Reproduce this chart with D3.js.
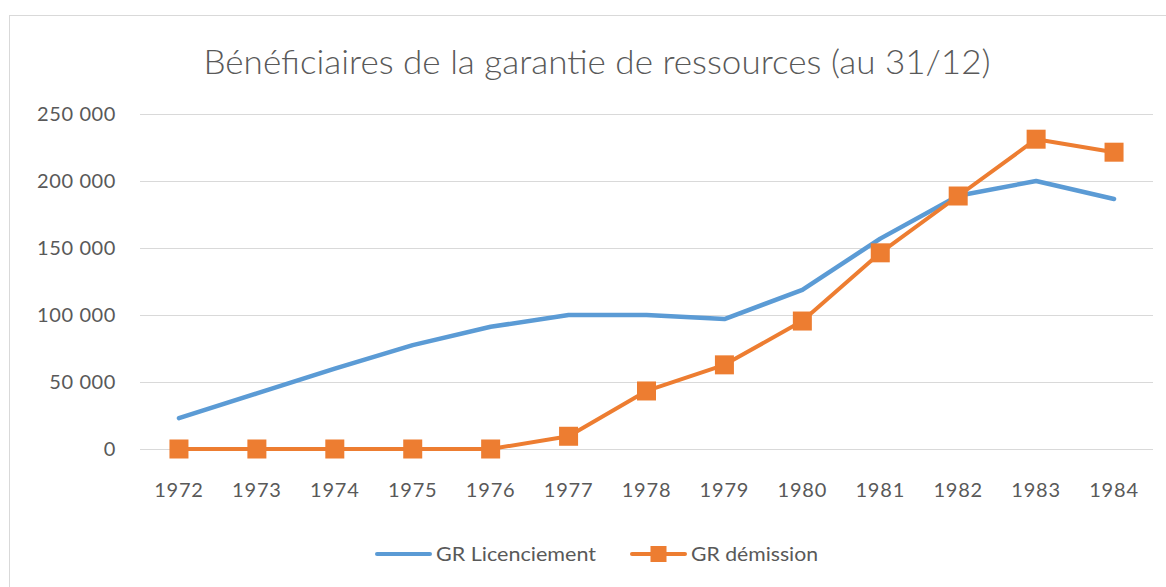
<!DOCTYPE html>
<html>
<head>
<meta charset="utf-8">
<script src="https://d3js.org/d3.v7.min.js"></script>
<style>
  body { margin: 0; background: #fff; }
  text { font-family: Lato, "Open Sans", sans-serif; fill: #595959; }
</style>
</head>
<body>
<svg></svg>
<script>
var width = 1166,
  height = 587;

// data
var years = ["1972", "1973", "1974", "1975", "1976", "1977", "1978", "1979", "1980", "1981", "1982", "1983", "1984"];
var licenciement = [23000, 41500, 60000, 77500, 91200, 100000, 100000, 97000, 118700, 157000, 189000, 200000, 186600];
var demission = [0, 0, 0, 0, 0, 9500, 43300, 62800, 95500, 146400, 188800, 231200, 221500];
var yTicks = [0, 50000, 100000, 150000, 200000, 250000];
var seriesNames = ["GR Licenciement", "GR démission"];
var colors = ["#5B9BD5", "#ED7D31"];

var svg = d3.select("svg")
  .attr("width", width)
  .attr("height", height);

// chart frame
svg.append("rect")
  .attr("x", 9.5).attr("y", 15.5)
  .attr("width", width + 10).attr("height", height + 10)
  .attr("fill", "none")
  .attr("stroke", "#d9d9d9");

var x = d3.scaleBand()
  .domain(years)
  .range([140, 1153]);

var y = d3.scaleLinear()
  .domain([0, 250000])
  .range([449, 114]);

var fmt = function (v) { return d3.format(",")(v).replace(/,/g, " "); };

// grid
svg.append("g")
  .selectAll("line")
  .data(yTicks)
  .enter().append("line")
  .attr("x1", 140).attr("x2", 1153)
  .attr("y1", d => Math.round(y(d)) + 0.5)
  .attr("y2", d => Math.round(y(d)) + 0.5)
  .attr("stroke", "#d9d9d9")
  .attr("stroke-width", 1);

// y labels
svg.append("g")
  .selectAll("text")
  .data(yTicks)
  .enter().append("text")
  .attr("x", 116)
  .attr("y", d => y(d))
  .attr("dy", "0.35em")
  .attr("text-anchor", "end")
  .style("font-size", "20px")
  .style("letter-spacing", "0.6px")
  .text(fmt);

// x labels
svg.append("g")
  .selectAll("text")
  .data(years)
  .enter().append("text")
  .attr("x", d => x(d) + x.bandwidth() / 2)
  .attr("y", 490)
  .attr("dy", "0.35em")
  .attr("text-anchor", "middle")
  .style("font-size", "20px")
  .style("letter-spacing", "0.8px")
  .text(d => d);

// title
svg.append("text")
  .attr("x", 597)
  .attr("y", 62)
  .attr("dy", "0.35em")
  .attr("text-anchor", "middle")
  .attr("textLength", 787)
  .attr("lengthAdjust", "spacingAndGlyphs")
  .style("font-size", "33px")
  .style("font-weight", 300)
  .text("Bénéficiaires de la garantie de ressources (au 31/12)");

var line = d3.line()
  .x((d, i) => x(years[i]) + x.bandwidth() / 2)
  .y(d => y(d));

svg.append("path")
  .datum(licenciement)
  .attr("d", line)
  .attr("fill", "none")
  .attr("stroke", colors[0])
  .attr("stroke-width", 4.5)
  .attr("stroke-linejoin", "round")
  .attr("stroke-linecap", "round");

svg.append("path")
  .datum(demission)
  .attr("d", line)
  .attr("fill", "none")
  .attr("stroke", colors[1])
  .attr("stroke-width", 4)
  .attr("stroke-linejoin", "round")
  .attr("stroke-linecap", "round");

var sq = 19;
svg.append("g")
  .selectAll("rect")
  .data(demission)
  .enter().append("rect")
  .attr("x", (d, i) => x(years[i]) + x.bandwidth() / 2 - sq / 2)
  .attr("y", d => y(d) - sq / 2)
  .attr("width", sq).attr("height", sq)
  .attr("fill", colors[1]);

// legend
var legendY = 554;
var legend = [
  { x1: 377, x2: 430, tx: 436, len: 160 },
  { x1: 632, x2: 685, tx: 691, len: 127 }
];
legend.forEach((l, i) => {
  svg.append("line")
    .attr("x1", l.x1).attr("x2", l.x2)
    .attr("y1", legendY).attr("y2", legendY)
    .attr("stroke", colors[i])
    .attr("stroke-width", 4)
    .attr("stroke-linecap", "round");
  if (i == 1) {
    svg.append("rect")
      .attr("x", (l.x1 + l.x2) / 2 - 8).attr("y", legendY - 8)
      .attr("width", 16).attr("height", 16)
      .attr("fill", colors[i]);
  }
  svg.append("text")
    .attr("x", l.tx)
    .attr("y", legendY)
    .attr("dy", "0.35em")
    .attr("textLength", l.len)
    .attr("lengthAdjust", "spacingAndGlyphs")
    .style("font-size", "20px")
    .text(seriesNames[i]);
});
</script>
</body>
</html>
